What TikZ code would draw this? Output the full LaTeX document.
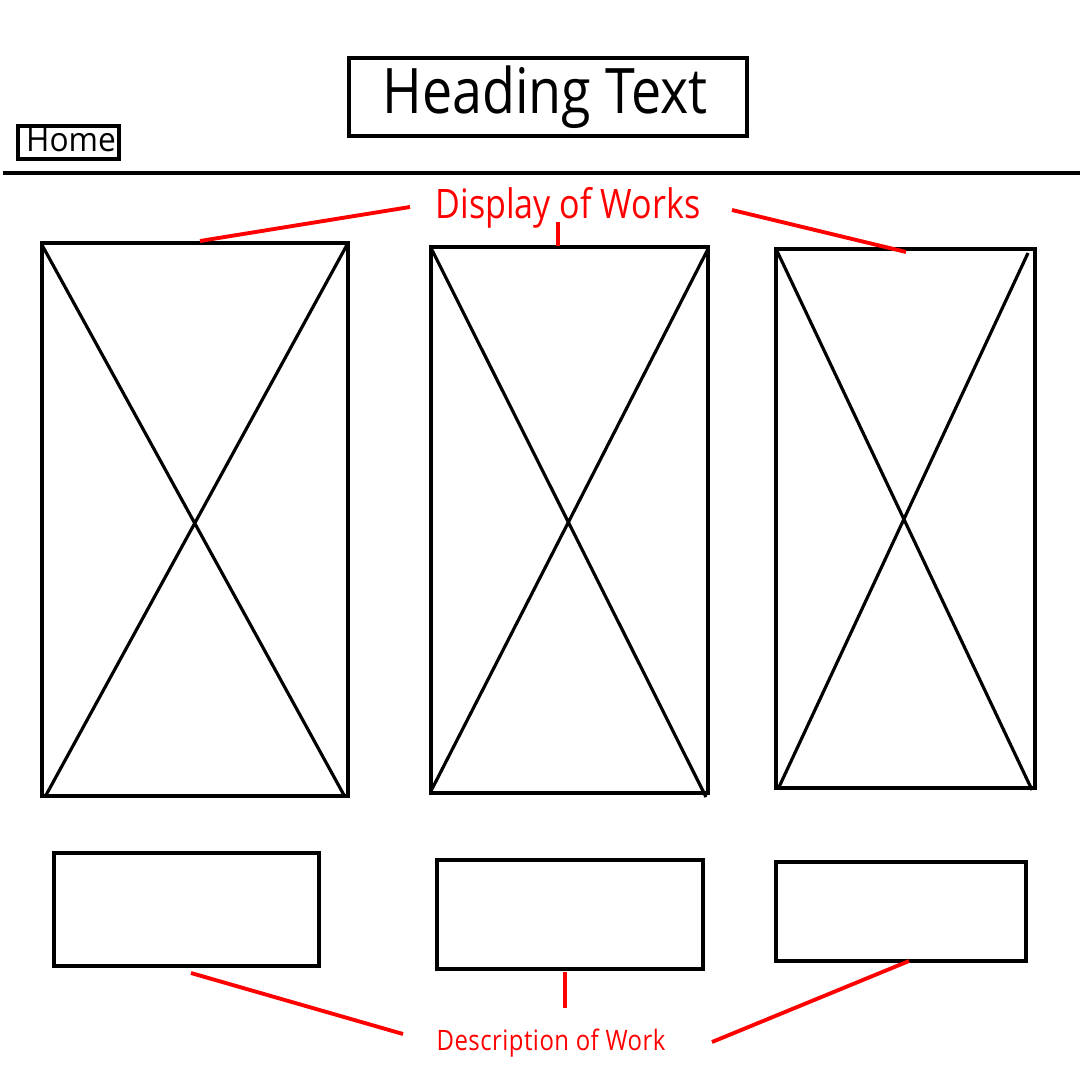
\documentclass[tikz,border=0pt]{standalone}
\usepackage{fontspec}
\setmainfont{Open Sans}
\begin{document}
\begin{tikzpicture}[x=0.01cm,y=-0.01cm,
  blk/.style={draw=black,line width=0.9pt},
  red/.style={draw=red,line width=1.1pt},
  lbl/.style={inner sep=0pt,anchor=center}]
\useasboundingbox[fill=white] (0,0) rectangle (1080,1080);
% heading
\draw[blk] (349,58) rectangle (747,136);
\node[lbl,font=\fontsize{17}{20}\selectfont] (head) at (545,97) {\scalebox{0.9}[1.05]{Heading Text}};
\draw[blk] (18,126) rectangle (119,159);
\node[lbl,font=\fontsize{9}{11}\selectfont] (home) at (71,140) {\scalebox{1.0}[1.05]{Home}};
\draw[blk] (3,173) -- (1080,173);
% display label
\node[lbl,text=red,font=\fontsize{11}{13}\selectfont] (disp) at (568,208) {\scalebox{0.88}[1.05]{Display of Works}};
% image boxes
\draw[blk] (42,243) rectangle (348,796);
\draw[blk] (42,245) -- (345,797) (348,243) -- (45,797);
\draw[blk] (431,247) rectangle (708,793);
\draw[blk] (432,250) -- (706,797) (708,249) -- (431,791);
\draw[blk] (776,249) rectangle (1035,788);
\draw[blk] (777,251) -- (1032,790) (1028,253) -- (779,787);
% description boxes
\draw[blk] (54,853) rectangle (319,966);
\draw[blk] (437,860) rectangle (703,969);
\draw[blk] (776,862) rectangle (1026,961);
\node[lbl,text=red,font=\fontsize{8}{10}\selectfont] (desc) at (551,1043) {\scalebox{0.85}[1]{\addfontfeature{LetterSpace=2}Description of Work}};
% red connectors
\coordinate (d1) at (200,241); \coordinate (d2) at (558,246); \coordinate (d3) at (906,252);
\coordinate (e1) at (191,973); \coordinate (e2) at (565,972); \coordinate (e3) at (909,961);
\draw[red] (410,207) -- (d1);
\draw[red] (558,222) -- (d2);
\draw[red] (732,210) -- (d3);
\draw[red] (403,1034) -- (e1);
\draw[red] (565,1008) -- (e2);
\draw[red] (712,1042) -- (e3);
\end{tikzpicture}
\end{document}
